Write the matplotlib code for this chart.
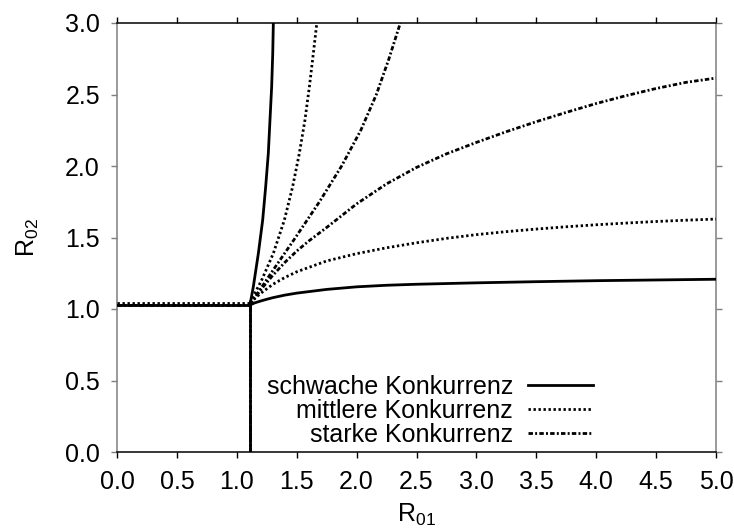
import numpy as np
import matplotlib
matplotlib.use("Agg")
import matplotlib.pyplot as plt

plt.rcParams['font.family'] = ['Liberation Sans', 'DejaVu Sans']
plt.rcParams['mathtext.default'] = 'regular'
plt.rcParams['lines.scale_dashes'] = False

# Grenze des Einzelbereichs (senkrechte Linie) fuer alle drei Faelle
r01_grenze = 1.11

# schwache Konkurrenz
h_schwach = 1.028
unten_schwach_x = [1.11, 1.15, 1.2, 1.25, 1.3, 1.4, 1.5, 1.75, 2.0, 2.25, 2.5, 3.0, 3.5, 4.0, 4.5, 5.0]
unten_schwach_y = [1.028, 1.043, 1.056, 1.068, 1.079, 1.097, 1.111, 1.137, 1.155, 1.166, 1.173,
                   1.183, 1.191, 1.198, 1.203, 1.208]
oben_schwach_x = [1.11, 1.138, 1.18, 1.216, 1.241, 1.263, 1.277, 1.291, 1.300, 1.305]
oben_schwach_y = [1.028, 1.156, 1.389, 1.622, 1.855, 2.088, 2.322, 2.555, 2.788, 3.0]

# mittlere Konkurrenz
h_mittel = 1.044
unten_mittel_x = [1.11, 1.2, 1.3, 1.4, 1.5, 1.75, 2.0, 2.25, 2.5, 2.75, 3.0, 3.25, 3.5,
                  3.75, 4.0, 4.25, 4.5, 4.75, 5.0]
unten_mittel_y = [1.044, 1.110, 1.172, 1.220, 1.260, 1.336, 1.387, 1.428, 1.463, 1.494, 1.520,
                  1.541, 1.559, 1.575, 1.589, 1.601, 1.612, 1.621, 1.629]
oben_mittel_x = [1.11, 1.208, 1.305, 1.397, 1.466, 1.522, 1.569, 1.606, 1.639, 1.668]
oben_mittel_y = [1.044, 1.203, 1.389, 1.622, 1.855, 2.088, 2.322, 2.555, 2.788, 3.0]

# starke Konkurrenz
h_stark = 1.03
unten_stark_x = [1.11, 1.2, 1.3, 1.4, 1.5, 1.6, 1.75, 2.0, 2.25, 2.5, 2.75, 3.0, 3.25, 3.5,
                 3.75, 4.0, 4.25, 4.5, 4.75, 5.0]
unten_stark_y = [1.03, 1.135, 1.235, 1.325, 1.405, 1.475, 1.57, 1.735, 1.875, 1.99, 2.085,
                 2.165, 2.24, 2.31, 2.375, 2.437, 2.492, 2.542, 2.585, 2.615]
oben_stark_x = [1.11, 1.285, 1.49, 1.69, 1.875, 2.035, 2.165, 2.27, 2.365]
oben_stark_y = [1.03, 1.25, 1.5, 1.75, 2.0, 2.25, 2.5, 2.75, 3.0]

namen = ['schwache Konkurrenz', 'mittlere Konkurrenz', 'starke Konkurrenz']

xticks = np.arange(0, 5.01, 0.5)
yticks = np.arange(0, 3.01, 0.5)

fig = plt.figure(figsize=(7.34, 5.31), dpi=100)
ax = fig.add_axes([117 / 734, 1 - 452 / 531, 599 / 734, 429 / 531])

lw = 2.0
punkt = (0, (1.7, 1.9))
strichpunkt = (0, (3.2, 1.6, 1.4, 1.6))
stile = ['-', punkt, strichpunkt]
fs = 18

def zweig(h, ux, uy, ox, oy, ls, z):
    ax.plot([0, r01_grenze], [h, h], color='black', lw=lw, ls=ls, zorder=z)
    ax.plot([r01_grenze, r01_grenze], [0, h], color='black', lw=lw, ls=ls, zorder=z)
    ax.plot(ux, uy, color='black', lw=lw, ls=ls, zorder=z)
    ax.plot(ox, oy, color='black', lw=lw, ls=ls, zorder=z)

zweig(h_stark, unten_stark_x, unten_stark_y, oben_stark_x, oben_stark_y, strichpunkt, 2)
zweig(h_mittel, unten_mittel_x, unten_mittel_y, oben_mittel_x, oben_mittel_y, punkt, 3)
zweig(h_schwach, unten_schwach_x, unten_schwach_y, oben_schwach_x, oben_schwach_y, '-', 4)

ax.set_xlim(0, 5)
ax.set_ylim(0, 3)
ax.set_xticks(xticks)
ax.set_yticks(yticks)
ax.set_xticklabels(['%.1f' % v for v in xticks])
ax.set_yticklabels(['%.1f' % v for v in yticks])

grau = '#7f7f7f'
for s in ['left', 'right']:
    ax.spines[s].set_color(grau)
for s in ['top', 'bottom']:
    ax.spines[s].set_color('black')
for s in ax.spines.values():
    s.set_linewidth(1.1)

ax.tick_params(axis='x', direction='out', length=4.3, width=1.0, color='black',
               top=True, labelsize=fs, pad=8.5)
ax.tick_params(axis='y', direction='out', length=4.3, width=1.0, color=grau,
               right=True, labelsize=fs, pad=8)

ax.set_xlabel('R$_{01}$', fontsize=fs, labelpad=6)
ax.set_ylabel('R$_{02}$', fontsize=fs, labelpad=17)

# Legende im gnuplot-Stil: Text rechtsbuendig, Linienmuster rechts daneben
zeilen_y = [0.156, 0.100, 0.044]
ax.text(0.661, zeilen_y[1] - 0.005, '\n'.join(namen), transform=ax.transAxes,
        ha='right', va='center', multialignment='right', fontsize=fs, linespacing=1.0)
for y, ls in zip(zeilen_y, stile):
    ax.plot([0.686, 0.795], [y, y], transform=ax.transAxes, color='black', lw=lw, ls=ls)

fig.savefig('out.png', dpi=100)
